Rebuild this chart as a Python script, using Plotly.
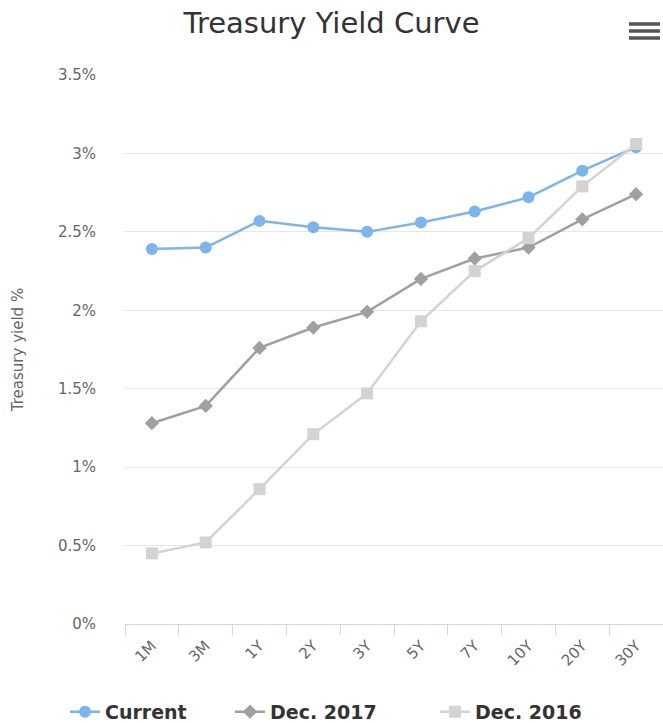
import plotly.graph_objects as go

categories = ["1M", "3M", "1Y", "2Y", "3Y", "5Y", "7Y", "10Y", "20Y", "30Y"]
current = [2.39, 2.40, 2.57, 2.53, 2.50, 2.56, 2.63, 2.72, 2.89, 3.04]
dec_2017 = [1.28, 1.39, 1.76, 1.89, 1.99, 2.20, 2.33, 2.40, 2.58, 2.74]
dec_2016 = [0.45, 0.52, 0.86, 1.21, 1.47, 1.93, 2.25, 2.46, 2.79, 3.06]
y_ticks = [0, 0.5, 1, 1.5, 2, 2.5, 3, 3.5]
y_tick_labels = ["0%", "0.5%", "1%", "1.5%", "2%", "2.5%", "3%", "3.5%"]

font = "DejaVu Sans, Verdana, sans-serif"
PL, PW = 125, 538  # plot area left / width in px

fig = go.Figure()
fig.add_trace(go.Scatter(x=categories, y=current, name="Current", mode="lines+markers",
                         line=dict(color="#7cb5ec", width=2.5), legend="legend",
                         marker=dict(symbol="circle", size=12, color="#7cb5ec")))
fig.add_trace(go.Scatter(x=categories, y=dec_2017, name="Dec. 2017", mode="lines+markers",
                         line=dict(color="#a0a0a0", width=2.5), legend="legend2",
                         marker=dict(symbol="diamond", size=11, color="#a0a0a0")))
fig.add_trace(go.Scatter(x=categories, y=dec_2016, name="Dec. 2016", mode="lines+markers",
                         line=dict(color="#d3d3d3", width=2.5), legend="legend3",
                         marker=dict(symbol="square", size=12, color="#d3d3d3")))

legend_font = dict(family=font, size=19, color="#333333", weight="bold")
def leg(px):
    return dict(orientation="h", x=(px - PL) / PW, xanchor="left", y=-0.16, yanchor="middle",
                font=legend_font, itemwidth=30, bgcolor="rgba(0,0,0,0)")

fig.update_layout(
    width=663, height=723,
    margin=dict(l=PL, r=0, t=75, b=99, autoexpand=False),
    paper_bgcolor="white", plot_bgcolor="white",
    font=dict(family=font, color="#666666", size=14),
    title=dict(text="Treasury Yield Curve", x=0.5, xanchor="center", y=0.969, yanchor="middle",
               font=dict(family=font, size=29, color="#333333")),
    showlegend=True,
    legend=leg(65), legend2=leg(230), legend3=leg(435),
    xaxis=dict(type="category", range=[-0.5, 9.5], showgrid=False, automargin=False,
               showline=True, linecolor="#ccd6eb", linewidth=1,
               ticks="outside", tickson="boundaries", ticklen=10, tickcolor="#ccd6eb",
               tickangle=-45, ticklabelstandoff=6,
               tickfont=dict(size=15, color="#666666"), fixedrange=True),
    yaxis=dict(range=[0, 3.5], tickvals=y_ticks, ticktext=y_tick_labels, automargin=False,
               showgrid=True, gridcolor="#e6e6e6", gridwidth=1, zeroline=False,
               showline=False, ticks="", ticklabelstandoff=28,
               tickfont=dict(size=15, color="#666666"),
               title=dict(text="Treasury yield %", font=dict(size=15, color="#666666"), standoff=30)),
)

# hamburger menu icon
for ypx in [24, 31, 38]:
    yy = (624 - ypx) / 549
    fig.add_shape(type="line", xref="paper", yref="paper", x0=(629 - PL) / PW, x1=(660 - PL) / PW,
                  y0=yy, y1=yy, line=dict(color="#555555", width=3.5))

fig.write_html("out.html")
